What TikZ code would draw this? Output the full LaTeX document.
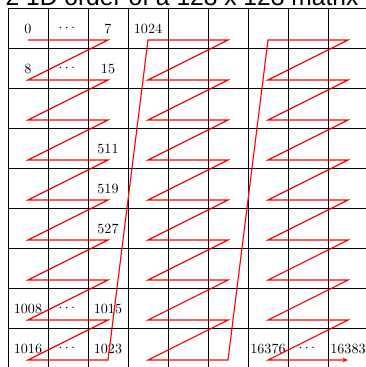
\documentclass[tikz,border=0pt]{standalone}
\usepackage{amsmath,amssymb}
\usepackage{fontspec}
\usepackage{xcolor}
\usepackage{tikz}
\usetikzlibrary{arrows.meta, calc}
\newfontfamily\titlefont{Liberation Sans}
\tikzset{
  gridline/.style={draw=black, line width=0.6pt},
  zpath/.style={draw=red, line width=0.8pt, line join=miter,
                -{Stealth[length=4pt, width=3.2pt]}},
  idx/.style={inner sep=0pt, font=\normalsize},
  heading/.style={anchor=base, inner sep=0pt,
                  font=\titlefont\fontsize{17.5}{20}\selectfont}
}

\begin{document}
\begin{tikzpicture}
  \useasboundingbox (-0.2,0.2) rectangle (8.95,-8.975);

  % title, only its lower part shows
  \node[heading] (title) at (4.35,0.075) {2 1D order of a 128 x 128 matrix};

  % the matrix cells
  \draw[gridline] (0,-9) grid (9,0);

  % element indices
  \node[idx] (e0)     at (0.5,-0.52) {0};
  \node[idx] (d0)     at (1.5,-0.52) {$\cdots$};
  \node[idx] (e7)     at (2.5,-0.52) {7};
  \node[idx] (e1024)  at (3.5,-0.52) {1024};
  \node[idx] (e8)     at (0.5,-1.52) {8};
  \node[idx] (d1)     at (1.5,-1.52) {$\cdots$};
  \node[idx] (e15)    at (2.5,-1.52) {15};
  \node[idx] (e511)   at (2.5,-3.52) {511};
  \node[idx] (e519)   at (2.5,-4.52) {519};
  \node[idx] (e527)   at (2.5,-5.52) {527};
  \node[idx] (e1008)  at (0.5,-7.52) {1008};
  \node[idx] (d7)     at (1.5,-7.52) {$\cdots$};
  \node[idx] (e1015)  at (2.5,-7.52) {1015};
  \node[idx] (e1016)  at (0.5,-8.52) {1016};
  \node[idx] (d8)     at (1.5,-8.52) {$\cdots$};
  \node[idx] (e1023)  at (2.5,-8.52) {1023};
  \node[idx] (e16376) at (6.5,-8.52) {16376};
  \node[idx] (d9)     at (7.5,-8.52) {$\cdots$};
  \node[idx] (e16383) at (8.5,-8.52) {16383};

  % row-major walk, three column blocks
  \coordinate (start) at (0.5,-0.8);
  \draw[zpath] (start)
    \foreach \g in {0,1,2} {
      \foreach \r in {0,...,8} {
        -- ({3*\g+0.5},{-\r-0.8}) -- ({3*\g+2.5},{-\r-0.8})
      }
    };
\end{tikzpicture}
\end{document}
